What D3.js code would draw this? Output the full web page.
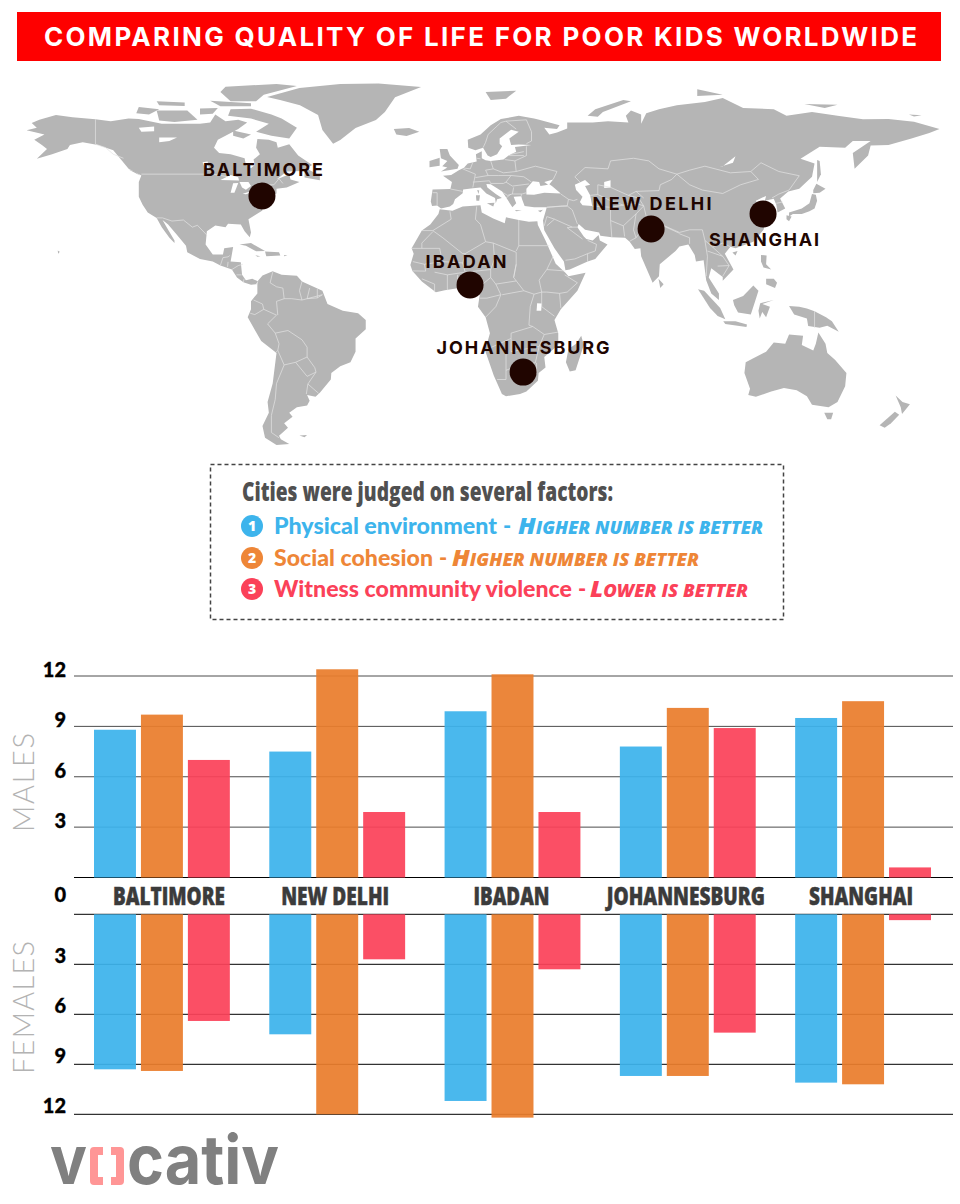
<!DOCTYPE html>
<html>
<head>
<meta charset="utf-8">
<script src="https://cdn.jsdelivr.net/npm/d3@7"></script>
<style>
  html, body { margin: 0; padding: 0; background: #fff; }
  svg { display: block; }
</style>
</head>
<body>
<div id="chart"></div>
<script>
// ---- chart values ----
const cities = ["BALTIMORE", "NEW DELHI", "IBADAN", "JOHANNESBURG", "SHANGHAI"];
const factors = ["environment", "cohesion", "violence"];
const maleEnvironment = [8.8, 7.5, 9.9, 7.8, 9.5];
const maleCohesion = [9.7, 12.4, 12.1, 10.1, 10.5];
const maleViolence = [7.0, 3.9, 3.9, 8.9, 0.6];
const femaleEnvironment = [9.3, 7.2, 11.2, 9.7, 10.1];
const femaleCohesion = [9.4, 12.0, 12.2, 9.7, 10.2];
const femaleViolence = [6.4, 2.7, 3.3, 7.1, 0.35];
const axisTicks = [3, 6, 9, 12];

// dots on the map, as [lon, lat]
const cityDots = [[-75.7, 40.8], [76.9, 28.3], [5.9, 7.2], [26.7, -25.7], [120.8, 34]];

// ---- map outlines, as [lon, lat] ----
const northAmerica = [[-168,65.6],[-164,66.5],[-166,68.3],[-163,69.5],[-156.5,71.3],[-150,70.5],[-141,69.7],[-135,69],[-128,70],[-124,69.8],[-115,68],[-108,68],[-100,68],[-96,68.5],[-94,71.5],[-90,69],[-85,69.5],[-81.5,68.5],[-85,66],[-87,65],[-93,62],[-94.5,59],[-92.5,57],[-88,56.5],[-82.5,55],[-82,52.5],[-80,51.2],[-78.5,52.5],[-79,54.5],[-76.5,56.5],[-78,59],[-77.5,62.3],[-73,62],[-70,61],[-69.5,59],[-65,60.3],[-61.5,56],[-56,52.5],[-60,50.2],[-66,50],[-70,47],[-65,49],[-64.5,47],[-61,46],[-66,44],[-70,43.5],[-70,41.7],[-74,40.5],[-76,37],[-75.5,35.3],[-81,32],[-80,27],[-80.5,25.2],[-82.5,27.5],[-84,30],[-89,30.3],[-90,29],[-94,29.6],[-97.3,27.5],[-97.8,22.5],[-95,18.7],[-91,18.7],[-90.5,21],[-87,21.5],[-88,16],[-84,15.8],[-83.5,11],[-82,9],[-79.5,9.5],[-77.3,8.6],[-78,7.5],[-80,7.3],[-83,8.2],[-85.5,10],[-87.5,13],[-92,14.5],[-95,16],[-100,17],[-105,19.5],[-105.5,22],[-109,26],[-112.5,30],[-114.7,31.7],[-112.5,28],[-110,24],[-110,23],[-112,25],[-115,29],[-117,32.5],[-120.5,34.5],[-122.5,37.5],[-124,40.5],[-124,46],[-123,48.5],[-128,51],[-131,54.5],[-134,58],[-140,60],[-146,61],[-151,60],[-152,58.5],[-158,56.5],[-164,54.8],[-160,58.5],[-162,60],[-165,62],[-161,64]];
const southAmerica = [[-77.5,8.5],[-75.5,10.8],[-71.5,12.4],[-68,11],[-62,10.7],[-60,8.5],[-52,5],[-50,0],[-44,-2.5],[-38,-3.5],[-35,-6],[-35,-9.5],[-39,-13],[-39,-18],[-41,-22],[-45,-23.5],[-48.5,-26],[-48.7,-28.5],[-53,-33.5],[-54.7,-35],[-58,-34.3],[-57,-36.5],[-58,-38.3],[-62,-39],[-65,-41],[-63.7,-42.5],[-67,-45],[-65.5,-46.7],[-69,-49.7],[-68.3,-51],[-65,-52.8],[-70,-53.2],[-74.5,-50.5],[-75.5,-46],[-73,-41],[-73.5,-37],[-71.5,-30],[-70,-18.5],[-76,-14],[-81.3,-5],[-80,-2],[-80,1],[-77.5,4],[-77.5,7]];
const africa = [[-6,35.8],[-1,35.2],[3,36.8],[10,37.3],[10.5,34.5],[15,32.3],[19.5,30.5],[20,32.7],[25,31.7],[29,31],[32.3,31.2],[32.5,29.8],[35.5,24],[37.3,20],[39.5,15.2],[43.3,11.8],[44.5,10.5],[51.2,11.8],[48,5],[41.5,-2],[39,-6],[40.5,-11],[40.5,-15.5],[35,-20],[35.5,-24],[32.8,-26],[32.5,-29],[28,-33],[25.5,-34],[20,-34.8],[18.4,-34],[15.2,-27],[11.8,-17.5],[13.7,-11],[12,-5],[9,-1],[9.7,3.5],[8.5,4.5],[5,5.5],[4.3,6.3],[1,5.9],[-4,5.2],[-7.5,4.4],[-13,8.5],[-16.7,12.5],[-17.5,14.7],[-16.2,19],[-17,21],[-13,27.7],[-9.7,30],[-6.5,34]];
const eurasia = [[-9,37],[-9.5,38.7],[-8.8,43.2],[-1.8,43.4],[-1.2,46],[-4.7,48.4],[-1.5,48.7],[1.5,50.5],[3.5,51.4],[5,53],[8.5,53.8],[8.2,56.5],[10.5,57.6],[10.5,55],[12,54.2],[14,54],[19,54.5],[21,56],[24,57.5],[23.5,59.2],[30,60],[25,60.2],[22,60],[21.3,62.5],[25,65],[22,65.8],[17.5,62.5],[17.5,60.5],[18.5,59.5],[16.5,56.5],[14,55.5],[12.8,56],[11,59],[8,58],[5.2,59],[5,62],[10,64],[14,67.5],[18,69.8],[25,71],[31,70],[33,69.5],[41,67.5],[40,66],[35,66.5],[37,64],[40,64.7],[44,66.2],[44,68.5],[54,68.5],[60,69],[68,68.5],[67,71],[69,73],[73,71.5],[73,68],[75,72],[80,73.5],[87,75],[98,76.2],[105,77.7],[113,74],[125,73.5],[130,71],[140,72.5],[150,71],[160,69.7],[170,69.8],[180,68.8],[190,66],[186,64.5],[179,62.5],[170,60],[163,59.8],[162,56],[156.7,51],[156,57],[163,61.5],[156,61.5],[153,59],[143,59.3],[135.5,54.8],[141,53],[140,48],[135,43.5],[130.7,42.5],[127.5,39.8],[129.5,36],[126.5,34.5],[126,37.5],[125,39.7],[121.5,39],[122,40.8],[118,39],[119,37.3],[122.5,37],[119.5,35],[121.8,31],[121,28],[117,23.5],[110,21],[108,21.6],[105.8,19],[109.2,13],[105,8.8],[105,10.2],[100.5,13.5],[99.5,10],[103.5,4],[103.5,1.5],[100.5,4],[98.5,9],[97.5,16.5],[94.5,16],[94,18.5],[91.5,22.5],[88,21.7],[86.5,20],[80.3,15],[80,10.5],[77.5,8],[73,18],[72.7,21],[70.5,20.8],[68.5,23.5],[66.7,25],[61.5,25.2],[57,25.8],[56.5,27],[51,28],[48.5,30.2],[48,29],[50.5,25.5],[51.5,24.5],[54,24],[56.3,26],[56.8,24],[59.8,22.5],[55,17],[52,16],[45,13],[43.3,12.7],[42.7,16],[39,21],[35,27.8],[34.5,31.5],[36,36.5],[31,36.5],[27.3,37],[26.3,39.5],[26,40.7],[23,40.5],[24,38],[22.5,36.5],[19.5,41],[18.5,42.5],[14,45.2],[12.3,45.3],[12.7,44],[16,41.5],[18.4,40],[16.5,39.5],[16,38],[15.7,40],[12.3,41.7],[10,44],[7,43.7],[3.2,43.2],[3,41.8],[0,39.5],[-0.7,37.7],[-2,36.8],[-5.5,36],[-7,37.2]];
const greenland = [[-73.7,78.1],[-61,81.5],[-45,83],[-30,83.2],[-13.3,81.9],[-23.5,78],[-27.5,72.5],[-31,69.4],[-39,66.4],[-45,61.9],[-47.8,60.5],[-52,65.7],[-53.7,71.3],[-60.8,75],[-68.6,77]];
const australia = [[114,-22],[113.5,-26],[115.7,-32],[115,-34.3],[118,-35],[124,-33],[129,-31.7],[134,-32.5],[138,-34.8],[140,-38],[146.5,-39],[150,-37],[153,-31],[153.5,-26],[149,-21],[146,-18.5],[145.3,-15],[142.5,-10.8],[141.5,-15],[140.5,-17.5],[136,-15.5],[136.5,-12],[131,-11.5],[129.5,-15],[125,-14.5],[122,-18],[117,-20.5]];
const islands = [
  [[-80,73.7],[-72,71.5],[-68,70],[-62,66.5],[-65,62.5],[-72,63.5],[-78,65],[-73,68],[-80,70],[-89,71],[-88,73.5]], // Baffin
  [[-117,73],[-105,73],[-101,69.5],[-110,68.7],[-116,69.2]], // Victoria
  [[-124,74.3],[-116,73.5],[-120,71.5],[-125,72]], // Banks
  [[-90,82],[-70,83],[-62,82.3],[-75,79],[-78,76.5],[-88,76.5],[-92,80]], // Ellesmere
  [[-96,76.7],[-80,75.8],[-80,74.6],[-92,74.6]],
  [[-117,76.5],[-106,76],[-106,74.7],[-116,75]],
  [[-100,73.8],[-93,74],[-95,71.8],[-100,71.5]],
  [[-87,65.5],[-80,64],[-83,62.5],[-87,63.5]],
  [[-59,51.5],[-53,48.5],[-53,46.7],[-59,47.7]], // Newfoundland
  [[-125.5,50],[-123.5,48.5],[-128,50.8]],
  [[-84.5,22.5],[-80,23],[-74.5,20],[-78,19.9],[-82,22]], // Cuba
  [[-74.5,19.8],[-69,19.5],[-68.5,18.3],[-74,18]],
  [[-78.3,18.4],[-76.3,18],[-77.5,17.8]],
  [[-67,18.5],[-65.7,18.3],[-67,18]],
  [[-24,66],[-18,66.4],[-14,65],[-19,63.4],[-23,64]], // Iceland
  [[-6,58.5],[-3,58.5],[-2,56],[1.5,52.5],[1,51],[-5.5,50],[-3,51.5],[-5,52],[-3,54],[-5.5,55]], // Britain
  [[-10,54],[-6,55.2],[-6,52.2],[-10,51.6]], // Ireland
  [[12,80],[24,80.5],[20,77.5],[14,77]], // Svalbard
  [[52,71],[55,73.5],[66,77],[69,76.5],[58,72.5],[56,70.7]], // Novaya Zemlya
  [[95,81],[105,79],[95,78.5]],
  [[137,75.5],[150,75.2],[145,74]],
  [[178,71.5],[183,71.2],[180,70.8]],
  [[12.5,38],[15.5,38.2],[15,36.8]],
  [[8.2,41],[9.8,41],[9.5,39],[8.4,39]],
  [[8.7,43],[9.5,42.8],[9.2,41.5]],
  [[23.5,35.5],[26.2,35.3],[24,35]],
  [[32.5,35.2],[34.5,35.6],[33.5,34.6]],
  [[142,54.3],[143,54],[143.5,49],[142,46],[142,50]], // Sakhalin
  [[140,41.5],[141.5,41.2],[142,39],[141,36],[139,35],[136,34],[132.5,34],[131,33],[131,34.5],[136,36],[139,38]], // Honshu
  [[140.5,43],[141.7,45.4],[145.3,43.5],[143,42],[140.5,41.8]], // Hokkaido
  [[130,33.5],[132,33],[131,31.2],[130,32]],
  [[120.3,24],[122,25],[121,22]],
  [[108.8,19.4],[110.8,20],[110,18.3]],
  [[79.8,9.5],[81.8,7.5],[80.5,6]], // Sri Lanka
  [[120,18.5],[122.2,18.3],[122,15],[124,13],[121,13.8],[120,16]], // Luzon
  [[122,9.5],[125,9.5],[126.3,8],[125.5,6],[122,7.5]], // Mindanao
  [[95.3,5.6],[97.7,5],[104,-1.5],[106,-5.8],[103,-4.5],[100,-1.5]], // Sumatra
  [[105.2,-6.5],[110,-6.5],[114.5,-7.7],[114.3,-8.7],[106,-7.5]], // Java
  [[109,1.5],[113,3],[117,7],[119,5],[117.7,1],[116,-4],[111,-3.2],[109.5,-0.5]], // Borneo
  [[119.7,0.3],[125,1.5],[120.5,0],[123.5,-1],[122,-5],[120.5,-3],[119.5,-5.5],[119,-2.5]], // Sulawesi
  [[131,-0.8],[135,-1],[138,-1.7],[141,-2.7],[145.5,-5],[147.8,-6.5],[150.5,-10.5],[146,-8.2],[143,-9],[138.5,-8.3],[138,-5.5],[133,-4]], // New Guinea
  [[144.8,-41],[148.3,-41],[147.5,-43.5],[146,-43.5]],
  [[172.8,-34.5],[175.5,-37],[178.4,-37.8],[175.3,-41.5],[174.8,-39]],
  [[172.5,-40.7],[174.2,-41.8],[171,-45],[168.5,-46.7],[166.5,-45.8]],
  [[49.5,-12],[50.5,-15.5],[47.3,-25],[45,-25.5],[43.5,-22],[44.5,-17],[47.5,-15]], // Madagascar
  [[-61,-49.6],[-58,-49.4],[-59,-50.3]],
  [[-155.8,20.2],[-155,19.7],[-155.6,19]]
];
// white water cut out of the land
const waters = [
  [[28,41.3],[31,41.2],[35,42],[41.5,41.7],[38,44.5],[37,45.2],[38.5,47],[35,46],[36.5,45],[33.5,44.5],[33,46],[30.5,46.3],[28,43.5]], // Black Sea
  [[47,45],[51,46.8],[53,45],[51,44.5],[53,41],[53.8,37],[50,37.3],[49,38.5],[50,40.5],[47.5,43]], // Caspian
  [[58.5,46],[61,46.7],[61,44],[58.5,43.8]], // Aral
  [[-92,46.8],[-88,48.7],[-85,47.8],[-84.7,46.6],[-88,46.7]], // Superior
  [[-88,42],[-86.5,42],[-85,45.7],[-87,45.6]], // Michigan
  [[-84.5,46],[-81,46],[-80,44.5],[-82,43.1],[-83.5,44]], // Huron
  [[-83.3,41.6],[-79,42.8],[-79,42.4],[-82,41.4]],
  [[-79.7,43.3],[-76.3,44],[-76.3,43.4]],
  [[-124,66.5],[-118,67],[-118,65.2],[-123,65]], // Great Bear
  [[-116,62.8],[-109,62.8],[-112,61.5],[-116,61]], // Great Slave
  [[-99,53.5],[-97,53.8],[-96.5,50.5],[-98,51]], // Winnipeg
  [[103.7,51.7],[105,52],[110,55.8],[109,53.3]], // Baikal
  [[32.2,0.3],[34,0.2],[33.8,-2.5],[32,-2.5]] // Victoria
];
const land = [northAmerica, southAmerica, africa, eurasia, greenland, australia, ...islands];

const borders = [
  // Canada / USA
  [[-141,69.7],[-141,60.3],[-137,59],[-134,56.5],[-130,55]],
  [[-123,49],[-95,49],[-89,48]],[[-74.5,45],[-71,45],[-69,47.3],[-67.5,45.5]],
  // USA / Mexico and Central America
  [[-117,32.5],[-114.7,32.5],[-111,31.3],[-106.5,31.7],[-103,29],[-101,29.7],[-97.3,26]],
  [[-92,14.6],[-91,17.5],[-89,17.8],[-88.3,18.3]],[[-89,15.9],[-89.2,14]],[[-87.5,13],[-85,14.5],[-83.2,15]],[[-85.7,11],[-83.7,11]],[[-83,8.3],[-82.7,9.5]],[[-77.3,8.5],[-77.8,7.3]],
  // South America
  [[-71.5,12],[-72.5,8],[-70,6.5],[-67.5,6],[-67,2],[-70,1],[-69.5,-4.2]],
  [[-60,8.5],[-61,5],[-60,1.5],[-64,2],[-67,2]],[[-57,6],[-58,2],[-54,2.3],[-54,5.7]],[[-54,2.3],[-52,3.5]],[[-60,1.5],[-52,3.5]],
  [[-79,1.5],[-75.5,0],[-75,-2],[-78.5,-4],[-80.3,-3.5]],[[-75,-2],[-70,-4.2],[-73.5,-7.5],[-70.5,-11],[-69,-15],[-69.5,-17.5],[-70.3,-18.3]],
  [[-70.5,-11],[-65.5,-10],[-60,-13.5],[-58,-16.3],[-58,-20],[-62.5,-22],[-67,-23],[-69.5,-17.5]],
  [[-58,-20],[-55,-24],[-54.5,-25.7],[-58,-27.3],[-62.5,-22]],[[-54.5,-25.7],[-57.7,-30.2],[-53.5,-33.7]],[[-57.7,-30.2],[-58.3,-34]],
  [[-67,-23],[-70,-30],[-70.5,-36],[-72,-42],[-72,-48.5],[-69,-50.5]],
  // Africa
  [[-2,35],[-1.5,32],[-8.7,27.7],[-13,27.7]],[[-8.7,27.7],[-4.8,25],[3,19],[4,19],[12,23.5],[10,30],[8,32],[8.5,36.8]],
  [[-17,21],[-13,21],[-13,23],[-8.7,27.3]],[[-13,21],[-6,21],[-5,16],[-12,15],[-16.5,16]],[[-5,16],[3,15.5],[4,19]],[[-12,15],[-11.5,12.4],[-16.7,12.5]],
  [[3,15.5],[4,12],[3,6.3]],[[4,12],[14,13],[15.5,17],[15,23],[12,23.5]],[[14,13],[14,10],[9,6],[8.7,4.5]],[[15,23],[24,19.5],[24,15],[23,10],[27,5],[31,3.7],[34,4.5],[36,4.5],[41,4],[41.5,-1.5]],
  [[25,31.7],[25,22],[37,22]],[[24,20],[25,22]],[[24,15],[23,10]],[[34,4.5],[33,9],[36,13],[38.5,18]],[[36,13],[43,12.5]],[[43,11],[48,8],[44,4.5],[41,4]],
  [[14,10],[16,7.5],[24,8.7]],[[16,7.5],[18,3.5],[12.5,2.2],[9.7,2.2]],[[18,3.5],[16,-1],[12,-5]],[[18.5,3.5],[27,5]],[[31,3.7],[29.5,-1],[29,-8],[30.5,-8.5],[22,-11],[22,-13],[12,-17.3]],
  [[30.5,-8.5],[35,-11.5],[40.5,-10.6]],[[34,-1],[39,-4.6]],[[34,-1],[34,4.5]],[[22,-13],[22,-18],[33,-16],[35,-11.5]],[[20,-18],[20,-28.5],[16.5,-28.5]],[[20,-25],[27,-22.5],[31.5,-22.2],[33,-16]],[[32,-22.2],[32,-26.5]],
  [[-8,7.5],[-8,4.5]],[[-3,11],[-3,5.2]],[[1,11],[1,6]],[[-8,12],[-3,11],[4,12]],[[-13,9.5],[-8,7.5]],
  // Europe
  [[-1.8,43.4],[3,42.5]],[[-7,37.2],[-7,42],[-8.8,42]],[[3,51],[8,49],[7,44]],[[7,53.5],[6,51],[3.5,51.3]],[[8.5,55],[10,54.8]],[[14,54],[15,51],[12,50.5],[13,48.5],[8,47.7]],[[7,46],[13.5,46.5],[14,45.5]],
  [[15,51],[19,49.5],[24,50],[23.5,54],[19.5,54.5]],[[13,48.5],[17,48.5],[22,48.5],[20,46],[22.5,44.5],[29,45.3]],[[14,45.5],[19,45.5],[20,46]],[[22,48.5],[27,48],[30,46]],[[24,50],[31.5,52],[40,50],[38.5,47]],[[23.5,54],[28,56],[28,59.5]],[[22,56.5],[27,57.5]],[[21,56],[27,56]],
  [[19,42],[20.5,41],[22.5,41.5],[23,44]],[[22.5,41.5],[26.3,41.5],[28,42]],[[22,41.5],[20,40]],[[26,41.5],[26,40.7]],
  [[11,59],[12,61],[13,64],[18,68.5],[20,69],[28,69.5],[30,65],[30,61.5],[28,60.5]],[[20,69],[24,66]],
  // Middle East and central Asia
  [[36,36.5],[44,37],[44.5,39.5],[41.5,41.5]],[[44.5,39.5],[46.5,39],[48,39.5]],[[44,37],[46,35.5],[48,30.2]],[[36,33],[39,32],[46,29],[48,29]],[[36,29.5],[39,32]],[[44,37],[42,37],[36,36.5]],[[35,29.5],[36,33]],
  [[46,29],[44,28.8],[50,24.5]],[[52,16],[52,19],[55,20],[55.5,22.5],[52,24]],[[43.3,16.5],[47,17],[52,19]],
  [[61,36.5],[61,31.5],[61.5,25.2]],[[61,31.5],[66,29.5],[71,34],[74,37]],[[61,36.5],[66,37.3],[71,38],[74,37]],[[53.8,37],[61,36.5]],[[66,29.5],[66.5,25.5]],[[74,37],[75,33],[78,31.5],[81,30],[88,27],[92,28],[97,28],[98,24],[101,21.5],[105,23],[108,21.6]],
  [[71,34],[70,28],[71,25],[68.5,23.7]],[[75,33],[74,29],[71,25]],[[88,26.5],[92,25],[92,22.7]],[[80.5,30],[88,26.7]],[[98,24],[99,18],[98.5,10.5]],[[101,21.5],[105,18],[107.5,14.5],[105,10.5]],[[103,14.3],[107.5,14.5]],[[99,20],[105,18]],
  [[53,41],[56,41.3],[56,45],[61,44],[68,41],[71,42.5],[80,42.8],[80.5,45],[85,47],[87,49],[80,51],[76,54],[70,55],[61,54],[60,51],[51,51.5],[47,48],[49,46]],[[56,41.3],[61,39],[66,37.3]],[[68,41],[72,40],[74,37]],[[71,42.5],[74,40]],
  [[87,49],[92,45],[97,43],[105,41.7],[112,45],[119,47],[116,50],[108,49.5],[98,52],[92,50.5],[87,49]],[[116,50],[120,53.3],[127,50],[135,48.4],[131,43]],[[131,43],[127,41.5],[124.3,40]],[[126,38],[128.5,38.5]],
  // New Guinea
  [[141,-2.7],[141,-9]]
];

// ---- colours ----
const factorColor = { environment: "#3cb3ec", cohesion: "#ea7d2c", violence: "#fb4259" };
const textColor = { environment: "#3db4ec", cohesion: "#ee8637", violence: "#fb4159" };

const width = 960, height = 1204;
const svg = d3.select("#chart").append("svg")
  .attr("width", width)
  .attr("height", height)
  .attr("viewBox", `0 0 ${width} ${height}`);

// fit a string to the width measured on the picture
function fit(sel, len) {
  return sel.attr("textLength", len).attr("lengthAdjust", "spacingAndGlyphs");
}

// title band
svg.append("rect").attr("x", 17).attr("y", 12).attr("width", 924).attr("height", 49).attr("fill", "#fe0000");
svg.append("text")
  .attr("x", 44).attr("y", 46)
  .attr("textLength", 873)
  .attr("fill", "#fff")
  .style("font", "700 26px Inter")
  .text("COMPARING QUALITY OF LIFE FOR POOR KIDS WORLDWIDE");

// ---- map ----
const mapX = d3.scaleLinear().domain([0, 100]).range([455, 710]);
const mapY = d3.scaleLinear().domain([0, 60]).range([304, 145]);
const outline = d3.line().x(d => mapX(d[0])).y(d => mapY(d[1]));

const map = svg.append("g");
map.selectAll(".land")
  .data(land)
  .enter().append("path")
  .attr("class", "land")
  .attr("d", d => outline(d) + "Z")
  .attr("fill", "#b5b5b5");
map.selectAll(".water")
  .data(waters)
  .enter().append("path")
  .attr("class", "water")
  .attr("d", d => outline(d) + "Z")
  .attr("fill", "#fff");
map.selectAll(".border")
  .data(borders)
  .enter().append("path")
  .attr("class", "border")
  .attr("d", outline)
  .attr("fill", "none")
  .attr("stroke", "#e4e4e4")
  .attr("stroke-width", 0.7);

// city dots and their labels (offsets and widths)
const dotLabel = [
  { dx: 1, dy: -20, len: 120 },
  { dx: 1, dy: -19, len: 119 },
  { dx: -4, dy: -17, len: 81 },
  { dx: 0, dy: -18, len: 173 },
  { dx: 1, dy: 32, len: 110 }
];
map.selectAll(".city-dot")
  .data(cityDots)
  .enter().append("circle")
  .attr("class", "city-dot")
  .attr("cx", d => mapX(d[0]))
  .attr("cy", d => mapY(d[1]))
  .attr("r", 13.5)
  .attr("fill", "#200500");
map.selectAll(".city-label")
  .data(cityDots)
  .enter().append("text")
  .attr("class", "city-label")
  .attr("x", (d, i) => mapX(d[0]) + dotLabel[i].dx)
  .attr("y", (d, i) => mapY(d[1]) + dotLabel[i].dy)
  .attr("text-anchor", "middle")
  .attr("textLength", (d, i) => dotLabel[i].len)
  .attr("fill", "#200500")
  .style("font", "700 18px Inter")
  .text((d, i) => cities[i]);

// ---- legend box ----
const legend = svg.append("g");
legend.append("rect")
  .attr("x", 210.5).attr("y", 464.5).attr("width", 573).attr("height", 155)
  .attr("fill", "none")
  .attr("stroke", "#444")
  .attr("stroke-width", 1.5)
  .attr("stroke-dasharray", "4,3");
fit(legend.append("text")
  .attr("x", 242).attr("y", 501)
  .attr("fill", "#505050")
  .style("font", "800 27px 'Open Sans'")
  .text("Cities were judged on several factors:"), 371);

const legendRows = [
  { key: "environment", y: 526, name: "Physical environment", note: "Higher number is better", nameLen: 223, dashX: 503, noteX: 518, noteLen: 245 },
  { key: "cohesion", y: 558, name: "Social cohesion", note: "Higher number is better", nameLen: 159, dashX: 439, noteX: 452, noteLen: 247 },
  { key: "violence", y: 589, name: "Witness community violence", note: "Lower is better", nameLen: 298, dashX: 578, noteX: 590, noteLen: 158 }
];
legendRows.forEach((r, i) => {
  const row = legend.append("g").attr("fill", textColor[r.key]);
  row.append("circle").attr("cx", 252).attr("cy", r.y).attr("r", 11);
  row.append("text")
    .attr("x", 252).attr("y", r.y + 5)
    .attr("text-anchor", "middle")
    .attr("fill", "#fff")
    .style("font", "800 14px 'Open Sans'")
    .text(i + 1);
  fit(row.append("text")
    .attr("x", 274).attr("y", r.y + 8)
    .style("font", "900 22px Lato")
    .text(r.name), r.nameLen);
  row.append("text")
    .attr("x", r.dashX).attr("y", r.y + 8)
    .style("font", "900 22px Lato")
    .text("-");
  // small capitals written out: big first letter, smaller rest
  const note = row.append("text")
    .attr("x", r.noteX).attr("y", r.y + 8)
    .style("font", "italic 800 17px 'Open Sans'");
  note.append("tspan").style("font-size", "23px").text(r.note[0]);
  note.append("tspan").text(r.note.slice(1).toUpperCase());
  fit(note, r.noteLen);
});

// ---- bars ----
const left = 74, right = 953;
const x = d3.scaleBand().domain(cities).range([94, 931]).paddingInner(0.225);
const xFactor = d3.scaleBand().domain(factors).range([0, x.bandwidth()]).paddingInner(0.106);
const yMale = d3.scaleLinear().domain([0, 12]).range([877.5, 676]);
const yFemale = d3.scaleLinear().domain([0, 12]).range([914.3, 1114.3]);

const maleRows = [maleEnvironment, maleCohesion, maleViolence];
const femaleRows = [femaleEnvironment, femaleCohesion, femaleViolence];

function drawAxis(scale, lineColor, labelDy) {
  const g = svg.append("g")
    .attr("transform", `translate(${left},0)`)
    .call(d3.axisLeft(scale)
      .tickValues(axisTicks)
      .tickSize(-(right - left))
      .tickPadding(8)
      .offset(0));
  g.select(".domain").remove();
  g.selectAll("line").attr("stroke", lineColor);
  g.selectAll("text")
    .attr("dy", labelDy)
    .attr("fill", "#000")
    .attr("stroke", "#000")
    .attr("stroke-width", 0.3)
    .style("font", "900 20px Lato");
  // zero line
  g.append("line")
    .attr("x2", right - left)
    .attr("y1", scale(0)).attr("y2", scale(0))
    .attr("stroke", "#000");
}
drawAxis(yMale, "#4d4d4d", "0.05em");
drawAxis(yFemale, "#000", "-0.05em");

function drawBars(rows, y) {
  factors.forEach((f, j) => {
    svg.append("g").selectAll("rect")
      .data(rows[j])
      .enter().append("rect")
      .attr("x", (d, i) => x(cities[i]) + xFactor(f))
      .attr("y", d => Math.min(y(0), y(d)))
      .attr("width", xFactor.bandwidth())
      .attr("height", d => Math.abs(y(d) - y(0)))
      .attr("fill", factorColor[f])
      .attr("fill-opacity", 0.93);
  });
}
drawBars(maleRows, yMale);
drawBars(femaleRows, yFemale);

// zero label between the panels
svg.append("text")
  .attr("x", 66).attr("y", 902)
  .attr("text-anchor", "end")
  .attr("stroke", "#000")
  .attr("stroke-width", 0.3)
  .style("font", "900 20px Lato")
  .text("0");

// city names between the panels
const nameDx = [7, -2, -1, -2, -2];
const nameLen = [112, 108, 76, 158, 104];
svg.selectAll(".city-name")
  .data(cities)
  .enter().append("text")
  .attr("class", "city-name")
  .attr("x", (d, i) => x(d) + x.bandwidth() / 2 + nameDx[i])
  .attr("y", 905)
  .attr("text-anchor", "middle")
  .attr("textLength", (d, i) => nameLen[i])
  .attr("lengthAdjust", "spacingAndGlyphs")
  .attr("fill", "#3b3b3b")
  .attr("stroke", "#3b3b3b")
  .attr("stroke-width", 0.5)
  .style("font", "800 24px 'Open Sans'")
  .text(d => d);

// side titles
[["MALES", 782.5, 99], ["FEMALES", 1007.5, 133]].forEach(([label, cy, len]) => {
  svg.append("text")
    .attr("transform", `translate(34,${cy}) rotate(-90)`)
    .attr("text-anchor", "middle")
    .attr("textLength", len)
    .attr("fill", "#b3b3b3")
    .style("font", "300 29px Lato")
    .text(label);
});

// ---- logo ----
const logo = svg.append("g");
fit(logo.append("text").attr("x", 50).attr("y", 1184)
  .attr("fill", "#808080").style("font", "700 68px Inter").text("v"), 37);
fit(logo.append("text").attr("x", 127).attr("y", 1184)
  .attr("fill", "#808080").style("font", "700 68px Inter").text("cativ"), 152);
logo.append("path")
  .attr("d", "M103,1151H94V1181H103M111,1151H120V1181H111")
  .attr("fill", "none")
  .attr("stroke", "#ff9696")
  .attr("stroke-width", 8)
  .attr("stroke-linejoin", "round");
</script>
</body>
</html>
